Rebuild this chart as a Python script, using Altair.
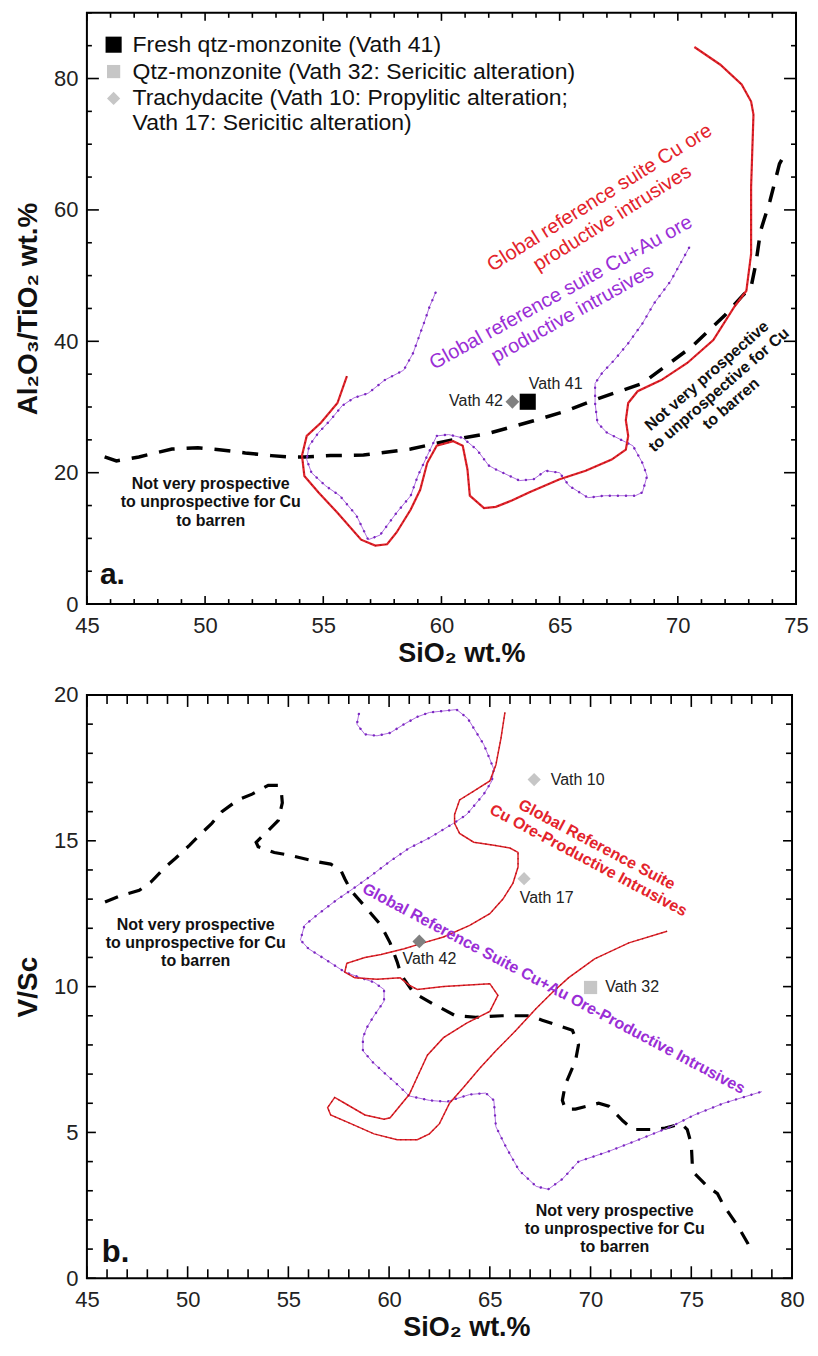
import altair as alt
import pandas as pd

FONT = "Liberation Sans"

# ---------------- Panel a : Al2O3/TiO2 vs SiO2 ----------------
a_red_x = [56.0, 55.6, 54.9, 54.3, 54.1, 54.2, 54.8, 55.6, 56.6, 57.2, 57.7, 58.1, 58.7, 59.1, 59.4, 59.8,
           60.5, 60.9, 61.1, 61.2, 61.8, 62.3, 63.0, 63.7, 65.0, 66.1, 67.2, 67.8, 67.9, 67.8, 67.9, 68.3,
           69.3, 70.4, 71.5, 72.4, 72.9, 73.1, 73.1, 73.2, 73.1, 72.7, 71.8, 70.7]
a_red_y = [34.7, 30.6, 27.6, 25.6, 22.6, 19.5, 17.0, 13.9, 9.8, 8.9, 9.1, 10.9, 14.4, 17.4, 21.5, 24.1,
           24.8, 24.1, 20.5, 16.5, 14.6, 14.8, 15.8, 17.0, 19.0, 20.3, 22.0, 23.5, 25.6, 28.0, 30.6, 32.4,
           34.1, 36.7, 40.2, 45.3, 47.7, 53.3, 63.5, 74.5, 76.5, 79.1, 82.1, 84.8]

a_pur_x = [59.75, 59.5, 59.3, 59.1, 58.8, 58.4, 57.6, 56.9, 56.3, 55.8, 55.3, 54.8, 54.4, 54.3, 54.5, 55.1,
           55.7, 56.4, 56.9, 57.4, 58.1, 58.7, 59.0, 59.4, 59.8, 60.3, 60.9, 61.5, 62.0, 62.3, 63.3, 63.9,
           64.4, 65.0, 65.4, 66.2, 66.9, 68.2, 68.5, 68.7, 68.5, 68.1, 67.6, 67.0, 66.6, 66.5, 66.5, 66.8,
           67.3, 67.9, 68.5, 69.0, 69.7, 70.5]
a_pur_y = [47.4, 45.3, 43.2, 41.2, 38.2, 35.6, 34.1, 32.1, 31.4, 30.2, 28.0, 26.1, 24.1, 22.0, 20.0, 18.0,
           16.5, 13.5, 9.8, 10.5, 13.9, 16.5, 19.5, 22.6, 25.6, 25.8, 25.3, 23.5, 21.1, 20.5, 18.8, 19.0,
           20.3, 20.0, 18.0, 16.2, 16.5, 16.5, 17.0, 19.5, 21.5, 24.1, 25.0, 26.1, 27.6, 30.6, 33.6, 35.2,
           37.1, 39.7, 42.7, 45.8, 49.2, 54.4]

a_blk_x = [45.75, 46.25, 47.2, 47.9, 48.6, 49.7, 50.6, 51.7, 52.8, 53.5, 54.2, 55.3, 56.7, 58.7, 60.2,
           62.0, 63.9, 65.2, 66.5, 68.5, 70.6, 72.0, 72.7, 73.1, 73.3, 73.5, 73.9, 74.3, 74.45]
a_blk_y = [22.4, 21.8, 22.4, 23.0, 23.6, 23.8, 23.5, 23.0, 22.6, 22.4, 22.4, 22.6, 22.7, 23.6, 24.8,
           26.0, 27.9, 29.3, 31.1, 33.6, 39.2, 44.0, 46.8, 48.3, 51.8, 56.8, 61.4, 67.0, 68.0]

a_sample_name = ["Vath 42", "Vath 41"]
a_sample_kind = ["vath42", "fresh"]
a_sample_x = [63.0, 63.65]
a_sample_y = [30.8, 30.8]

# legend (panel a)
legend_kind = ["fresh", "qtz", "trachy"]
legend_text = ["Fresh qtz-monzonite (Vath 41)",
               "Qtz-monzonite (Vath 32: Sericitic alteration)",
               "Trachydacite (Vath 10: Propylitic alteration;",
               "Vath 17: Sericitic alteration)"]

# ---------------- Panel b : V/Sc vs SiO2 ----------------
b_red_x = [65.75, 65.55, 65.3, 65.0, 64.2, 63.5, 63.25, 63.25, 63.5, 64.2, 65.2, 66.0, 66.4, 66.4, 66.15,
           65.65, 65.0, 64.0, 62.7, 61.7, 60.75, 59.6, 58.8, 57.9, 57.8, 58.3, 59.4, 60.55, 61.0, 61.4,
           62.7, 65.0, 65.4, 65.0, 63.85, 62.7, 61.9, 61.4, 61.0, 60.05, 59.75, 58.8, 57.8, 57.3, 56.95,
           57.1, 58.1, 59.25, 60.4, 61.4, 62.0, 62.5, 63.0, 63.7, 64.5, 65.3, 66.3, 67.3, 68.1, 68.9,
           70.2, 71.9, 73.8]
b_red_y = [19.4, 18.5, 17.6, 17.05, 16.7, 16.4, 15.9, 15.6, 15.25, 14.95, 14.85, 14.75, 14.6, 14.1, 13.55,
           13.0, 12.5, 12.1, 11.7, 11.5, 11.3, 11.1, 11.0, 10.8, 10.5, 10.3, 10.25, 10.3, 10.05, 9.9,
           10.0, 10.1, 9.7, 9.15, 8.75, 8.25, 7.65, 6.9, 6.3, 5.5, 5.45, 5.6, 6.0, 6.2, 5.85,
           5.6, 5.3, 4.95, 4.75, 4.75, 4.95, 5.3, 6.0, 6.55, 7.2, 7.8, 8.5, 9.25, 9.8, 10.3,
           10.95, 11.5, 11.9]

b_pur_x = [58.5, 58.4, 58.8, 59.4, 60.05, 60.75, 61.4, 62.0, 63.35, 63.9, 64.3, 64.7, 65.0, 65.2, 65.1,
           64.7, 63.85, 63.2, 62.0, 61.0, 60.05, 59.1, 58.3, 57.45, 56.5, 55.8, 55.6, 56.0, 56.8, 57.8,
           58.6, 59.25, 59.75, 59.75, 59.25, 58.9, 58.7, 58.7, 59.2, 59.75, 60.4, 61.0, 62.0, 62.85, 64.0,
           64.8, 65.2, 65.3, 65.8, 66.45, 67.3, 67.9, 68.6, 69.4, 70.9, 72.2, 74.0, 75.15, 76.6, 78.5]
b_pur_y = [19.35, 19.0, 18.65, 18.6, 18.7, 19.0, 19.25, 19.4, 19.5, 19.2, 18.75, 18.3, 17.8, 17.45, 17.05,
           16.6, 15.9, 15.6, 15.1, 14.75, 14.3, 13.8, 13.4, 13.0, 12.5, 12.1, 11.6, 11.3, 10.95, 10.5,
           10.3, 10.15, 9.9, 9.5, 9.0, 8.6, 8.25, 7.8, 7.4, 7.05, 6.65, 6.25, 6.1, 6.05, 6.3,
           6.35, 6.1, 5.2, 4.5, 3.7, 3.15, 3.05, 3.4, 4.0, 4.35, 4.7, 5.2, 5.6, 6.0, 6.4]

b_blk_x = [45.9, 46.6, 47.6, 48.2, 48.9, 49.4, 50.1, 50.6, 51.2, 51.7, 52.5, 53.2, 54.0, 54.5, 54.65,
           54.7, 54.5, 53.85, 53.4, 53.5, 54.3, 55.1, 56.3, 57.1, 57.6, 57.8, 58.1, 58.8, 59.6, 60.05,
           60.4, 60.6, 60.9, 61.2, 62.2, 63.3, 64.3, 65.6, 67.0, 67.6, 69.1, 69.4, 69.25, 68.75, 68.6,
           68.75, 69.25, 70.4, 70.9, 71.6, 72.1, 73.0, 73.7, 74.5, 74.8, 75.0, 75.05, 75.15, 75.8, 76.3,
           76.6, 77.3, 77.8, 78.0]
b_blk_y = [12.9, 13.1, 13.3, 13.6, 14.1, 14.4, 14.85, 15.2, 15.6, 16.0, 16.4, 16.6, 16.9, 16.9, 16.7,
           16.3, 15.7, 15.25, 14.95, 14.8, 14.6, 14.5, 14.3, 14.2, 14.0, 13.7, 13.3, 12.75, 12.1, 11.5,
           10.85, 10.4, 10.1, 9.8, 9.4, 9.0, 8.95, 9.0, 9.0, 8.85, 8.5, 8.0, 7.45, 6.65, 6.1,
           5.8, 5.8, 6.0, 5.9, 5.4, 5.1, 5.1, 5.15, 5.3, 5.1, 4.6, 3.9, 3.6, 3.15, 2.9,
           2.5, 1.8, 1.2, 0.9]

b_sample_name = ["Vath 10", "Vath 17", "Vath 42", "Vath 32"]
b_sample_kind = ["trachy", "trachy", "vath42", "qtz"]
b_sample_x = [67.2, 66.7, 61.5, 70.0]
b_sample_y = [17.1, 13.7, 11.55, 9.97]

# axis tick values
a_x_major = [45, 50, 55, 60, 65, 70, 75]
a_x_minor = [v for v in range(45, 76) if v % 5 != 0]
a_y_major = [0, 20, 40, 60, 80]
a_y_minor = [v for v in range(0, 91, 5) if v % 20 != 0]
b_x_major = [45, 50, 55, 60, 65, 70, 75, 80]
b_x_minor = [v for v in range(45, 81) if v % 5 != 0]
b_y_major = [0, 5, 10, 15, 20]
b_y_minor = [v for v in range(0, 21) if v % 5 != 0]

# ---------------- styles ----------------
KIND_STYLE = {
    "fresh": ("square", "#000000", 260),
    "qtz": ("square", "#c6c6c6", 175),
    "trachy": ("diamond", "#c6c6c6", 175),
    "vath42": ("diamond", "#808080", 190),
}
RED = "#e3232b"
RED_DARK = "#8e1010"
PUR = "#b06ee0"
PUR_DARK = "#7a28c0"
PUR_TEXT = "#9a2ed6"


def curve_df(xs, ys):
    return pd.DataFrame({"x": xs, "y": ys, "i": list(range(len(xs)))})


def sample_df(xs, ys, kinds):
    return pd.DataFrame({
        "x": xs, "y": ys,
        "shape": [KIND_STYLE[k][0] for k in kinds],
        "color": [KIND_STYLE[k][1] for k in kinds],
        "size": [KIND_STYLE[k][2] for k in kinds],
    })


def make_panel(W, H, xdom, ydom, xmaj, xmin, ymaj, ymin, ytitle, curves, samples, texts,
               tick_x, tick_y, red_w, blk_dash, blk_w, title_x):
    xscale = alt.Scale(domain=xdom, nice=False, zero=False)
    yscale = alt.Scale(domain=ydom, nice=False, zero=False)
    xaxis = alt.Axis(values=xmaj, ticks=False, domain=False, grid=False, labelFlush=False,
                     labelOverlap=False, labelFont=FONT, labelFontSize=22, labelColor="#222222",
                     labelPadding=11, title="SiO₂ wt.%", titleFont=FONT, titleFontSize=27,
                     titleFontWeight="bold", titleColor="#111111", titlePadding=4, titleX=title_x)
    yaxis = alt.Axis(values=ymaj, ticks=False, domain=False, grid=False, labelFlush=False,
                     labelOverlap=False, labelFont=FONT, labelFontSize=22, labelColor="#222222",
                     labelPadding=9, title=ytitle, titleFont=FONT, titleFontSize=28,
                     titleFontWeight="bold", titleColor="#111111", titlePadding=11)

    def X(f="x"):
        return alt.X(f"{f}:Q", scale=xscale, axis=xaxis)

    def Y(f="y"):
        return alt.Y(f"{f}:Q", scale=yscale, axis=yaxis)

    layers = []
    red, pur, blk = curves
    layers.append(alt.Chart(blk).mark_line(color="black", strokeWidth=blk_w, strokeDash=blk_dash,
                                           strokeCap="butt").encode(x=X(), y=Y(), order="i:Q"))
    layers.append(alt.Chart(pur).mark_line(color=PUR, strokeWidth=1).encode(x=X(), y=Y(), order="i:Q"))
    layers.append(alt.Chart(pur).mark_line(color=PUR_DARK, strokeWidth=2.4, strokeDash=[0.1, 8],
                                           strokeCap="round").encode(x=X(), y=Y(), order="i:Q"))
    layers.append(alt.Chart(red).mark_line(color=RED, strokeWidth=red_w).encode(x=X(), y=Y(), order="i:Q"))
    layers.append(alt.Chart(red).mark_line(color=RED_DARK, strokeWidth=1.1, strokeDash=[1.5, 3.5],
                                           opacity=0.8).encode(x=X(), y=Y(), order="i:Q"))

    # sample points
    for sdf in samples:
        layers.append(alt.Chart(sdf).mark_point(filled=True, opacity=1, strokeWidth=0).encode(
            x=X(), y=Y(),
            shape=alt.Shape("shape:N", scale=None),
            color=alt.Color("color:N", scale=None),
            size=alt.Size("size:Q", scale=None)))

    # text annotations: one layer per line; dy (in the rotated frame) stacks the lines
    for xs, ys, strs, style, line_h in texts:
        blocks = [s.split("\n") for s in strs]
        nmax = max(len(b) for b in blocks)
        for k in range(nmax):
            rows = [(xx, yy, b[k], (k - (len(b) - 1) / 2) * line_h)
                    for xx, yy, b in zip(xs, ys, blocks) if k < len(b)]
            offs = sorted(set(r[3] for r in rows))
            for off in offs:
                d = pd.DataFrame([{"x": r[0], "y": r[1], "t": r[2]} for r in rows if r[3] == off])
                layers.append(alt.Chart(d).mark_text(font=FONT, dy=off, **style).encode(
                    x=X(), y=Y(), text="t:N"))

    # inward ticks on all four sides
    (xmj_len, xmn_len), (ymj_len, ymn_len) = tick_x, tick_y
    for vals, L in ((xmaj, xmj_len), (xmin, xmn_len)):
        d = pd.DataFrame({"x": vals})
        layers.append(alt.Chart(d).mark_rule(color="black", strokeWidth=1.6).encode(
            x=X(), y=alt.value(H), y2=alt.value(H - L)))
        layers.append(alt.Chart(d).mark_rule(color="black", strokeWidth=1.6).encode(
            x=X(), y=alt.value(0), y2=alt.value(L)))
    for vals, L in ((ymaj, ymj_len), (ymin, ymn_len)):
        d = pd.DataFrame({"y": vals})
        layers.append(alt.Chart(d).mark_rule(color="black", strokeWidth=1.6).encode(
            y=Y(), x=alt.value(0), x2=alt.value(L)))
        layers.append(alt.Chart(d).mark_rule(color="black", strokeWidth=1.6).encode(
            y=Y(), x=alt.value(W), x2=alt.value(W - L)))

    return alt.layer(*layers).properties(width=W, height=H)


NOT_PROSP = "Not very prospective\nto unprospective for Cu\nto barren"

# ---- panel a pieces ----
a_curves = (curve_df(a_red_x, a_red_y), curve_df(a_pur_x, a_pur_y), curve_df(a_blk_x, a_blk_y))
a_legend_pts = sample_df([46.13, 46.13, 46.13], [85.15, 81.06, 76.97], legend_kind)
a_samples = [sample_df(a_sample_x, a_sample_y, a_sample_kind), a_legend_pts]
a_texts = [
    ([46.93] * 4, [85.15, 81.06, 76.97, 73.2], legend_text,
     dict(align="left", baseline="middle", fontSize=23, color="#111111"), 0),
    ([66.96], [60.3], ["Global reference suite Cu ore\nproductive intrusives"],
     dict(align="center", baseline="middle", fontSize=20, color=RED, angle=328), 24),
    ([65.3], [45.8], ["Global reference suite Cu+Au ore\nproductive intrusives"],
     dict(align="center", baseline="middle", fontSize=20, color=PUR_TEXT, angle=331), 24),
    ([50.24], [15.5], [NOT_PROSP],
     dict(align="center", baseline="middle", fontSize=16, fontWeight="bold", color="#111111"), 18.5),
    ([71.74], [32.6], [NOT_PROSP],
     dict(align="center", baseline="middle", fontSize=16, fontWeight="bold", color="#111111", angle=319), 18.5),
    ([63.69], [33.5], ["Vath 41"],
     dict(align="left", baseline="middle", fontSize=16, color="#222222"), 0),
    ([62.6], [30.9], ["Vath 42"],
     dict(align="right", baseline="middle", fontSize=16, color="#222222"), 0),
    ([45.55], [3.0], ["a."],
     dict(align="left", baseline="alphabetic", fontSize=30, fontWeight="bold", color="#111111"), 0),
]

# ---- panel b pieces ----
b_curves = (curve_df(b_red_x, b_red_y), curve_df(b_pur_x, b_pur_y), curve_df(b_blk_x, b_blk_y))
b_samples = [sample_df(b_sample_x, b_sample_y, b_sample_kind)]
b_texts = [
    ([68.02, 70.73], [17.08, 9.97], ["Vath 10", "Vath 32"],
     dict(align="left", baseline="middle", fontSize=16, color="#222222"), 0),
    ([67.82, 62.0], [13.05, 10.95], ["Vath 17", "Vath 42"],
     dict(align="center", baseline="middle", fontSize=16, color="#222222"), 0),
    ([70.1], [14.6], ["Global Reference Suite\nCu Ore-Productive Intrusives"],
     dict(align="center", baseline="middle", fontSize=16, fontWeight="bold", color=RED, angle=28), 18),
    ([68.17], [9.93], ["Global Reference Suite Cu+Au Ore-Productive Intrusives"],
     dict(align="center", baseline="middle", fontSize=16, fontWeight="bold", color=PUR_TEXT, angle=28), 0),
    ([50.4, 71.2], [11.5, 1.7], [NOT_PROSP, NOT_PROSP],
     dict(align="center", baseline="middle", fontSize=16, fontWeight="bold", color="#111111"), 18),
    ([45.74], [0.54], ["b."],
     dict(align="left", baseline="alphabetic", fontSize=31, fontWeight="bold", color="#111111"), 0),
]

panel_a = make_panel(710, 592, [45, 75], [0, 90], a_x_major, a_x_minor, a_y_major, a_y_minor,
                     "Al₂O₃/TiO₂ wt.%", a_curves, a_samples, a_texts,
                     (8, 5), (12, 5), 2.2, [16, 12], 3.5, 375)
panel_b = make_panel(706, 584, [45, 80], [0, 20], b_x_major, b_x_minor, b_y_major, b_y_minor,
                     "V/Sc", b_curves, b_samples, b_texts,
                     (12, 9), (9, 6), 1.5, [14, 11], 3.2, 380)

chart = alt.vconcat(panel_a, panel_b, spacing=91, bounds="flush").configure_view(
    stroke="black", strokeWidth=2).properties(
    padding={"left": 5, "top": 2, "right": 0, "bottom": 0}, background="white")

chart.save("out.html", embed_options={"renderer": "svg", "actions": False})
